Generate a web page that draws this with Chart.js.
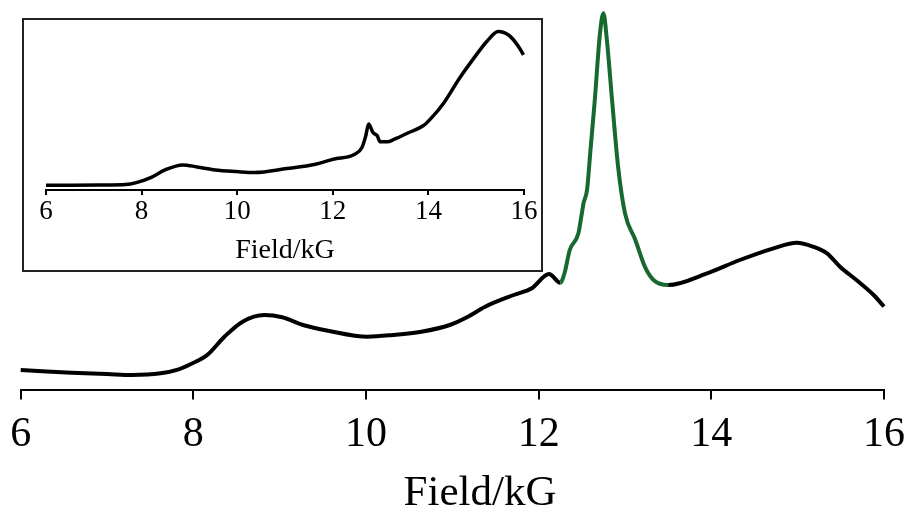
<!DOCTYPE html>
<html>
<head>
<meta charset="utf-8">
<script src="https://cdn.jsdelivr.net/npm/chart.js@4/dist/chart.umd.min.js"></script>
<style>
  html, body { margin: 0; padding: 0; background: #fff; }
  #wrap { position: relative; width: 909px; height: 514px; overflow: hidden; background: #fff; }
  #mainBox { position: absolute; left: 0; top: 0; width: 909px; height: 514px; }
  #insetBox { position: absolute; left: 22px; top: 18px; width: 517px; height: 250px; border: 2px solid #222; background: #fff; }
  #mainTitle { position: absolute; left: 330px; width: 300px; top: 469px; text-align: center;
    font-family: "Liberation Serif", "DejaVu Serif", serif; font-size: 43px; line-height: 43px; color: #000; }
</style>
</head>
<body>
<div id="wrap">
  <div id="mainBox"><canvas id="mainChart" width="909" height="514"></canvas></div>
  <div id="insetBox"><canvas id="insetChart" width="517" height="250"></canvas></div>
  <div id="mainTitle">Field/kG</div>
</div>
<script>
// ---- Data (field in kG, signal in arbitrary units) ----
const tickValues = [6, 8, 10, 12, 14, 16];
const axisTitle = "Field/kG";

const mainField = [6.00, 6.30, 6.59, 7.00, 7.29, 7.62, 7.83, 7.99, 8.16, 8.36, 8.57, 8.82, 9.03, 9.27, 9.56,
  10.02, 10.31, 10.64, 10.97, 11.18, 11.38, 11.71, 11.92, 12.12, 12.25, 12.30, 12.36, 12.46, 12.50, 12.52,
  12.56, 12.60, 12.65, 12.71, 12.75, 12.79, 12.85, 12.92, 13.00, 13.12, 13.23, 13.33, 13.50,
  13.95, 14.33, 14.72, 14.99, 15.18, 15.34, 15.49, 15.68, 15.88, 16.00];
const mainSignal = [19.5, 18.0, 16.8, 15.5, 14.5, 16.2, 20.2, 26.2, 34.5, 52.8, 67.8, 74.5, 72.2, 64.5, 58.8,
  52.8, 54.5, 57.8, 64.5, 72.8, 82.8, 94.5, 101.2, 115.5, 106.8, 116.5, 139.5, 156.2, 176.2, 186.5,
  199.5, 239.5, 289.5, 356.2, 376.2, 349.5, 289.5, 222.8, 176.2, 149.5, 122.8, 109.5, 104.5,
  116.2, 129.5, 141.2, 146.8, 142.8, 136.2, 122.8, 109.5, 94.5, 83.0];

// highlighted (green) field window in the main trace
const greenFrom = 12.25;
const greenTo = 13.50;

const insetField = [6.00, 6.54, 7.29, 7.66, 7.89, 8.19, 8.49, 8.86, 9.16, 9.54, 9.99, 10.36, 11.04, 11.64,
  12.01, 12.46, 12.61, 12.69, 12.75, 12.84, 12.93, 12.99, 13.14, 13.29, 13.59, 13.89, 14.04, 14.33,
  14.64, 14.94, 15.24, 15.46, 15.69, 15.87, 15.99];
const insetSignal = [4.7, 4.7, 5.0, 5.4, 7.4, 12.4, 20.1, 25.1, 23.1, 20.1, 18.4, 17.4, 21.4, 25.8,
  30.8, 35.8, 42.5, 54.2, 65.9, 57.5, 54.2, 48.2, 48.2, 50.8, 57.5, 64.2, 70.9, 87.6,
  111.0, 131.1, 149.5, 158.5, 154.5, 144.5, 135.1];

const toPoints = (xs, ys) => xs.map((x, i) => ({ x: x, y: ys[i] }));

const SERIF = '"Liberation Serif", "DejaVu Serif", serif';
const BLACK = '#000000';
const GREEN = '#17692f';

function xScale(fontSize, tickLen, pad, lineW, axisHeight) {
  return {
    type: 'linear',
    min: 6, max: 16,
    afterBuildTicks: (s) => { s.ticks = tickValues.map(v => ({ value: v })); },
    afterFit: (s) => { s.height = axisHeight; s.paddingLeft = 0; s.paddingRight = 0; },
    ticks: { color: BLACK, padding: pad, font: { family: SERIF, size: fontSize }, maxRotation: 0, autoSkip: false },
    grid: { display: true, drawOnChartArea: false, drawTicks: true, tickLength: tickLen, color: BLACK, lineWidth: lineW },
    border: { display: true, color: BLACK, width: lineW },
    title: { display: false }
  };
}

new Chart(document.getElementById('mainChart'), {
  type: 'line',
  data: {
    datasets: [{
      data: toPoints(mainField, mainSignal),
      borderColor: BLACK,
      borderWidth: 4,
      pointRadius: 0,
      cubicInterpolationMode: 'monotone',
      clip: false,
      segment: {
        borderColor: ctx => (ctx.p0.parsed.x >= greenFrom - 1e-6 && ctx.p1.parsed.x <= greenTo + 1e-6) ? GREEN : BLACK
      }
    }]
  },
  options: {
    responsive: false,
    animation: false,
    events: [],
    layout: { padding: { left: 20.7, right: 25, top: 0, bottom: 0 } },
    plugins: { legend: { display: false }, tooltip: { enabled: false }, title: { display: false } },
    scales: {
      x: xScale(42, 10, 10.5, 2, 124.5),
      y: { display: false, min: 0, max: 389.5 }
    }
  }
});

new Chart(document.getElementById('insetChart'), {
  type: 'line',
  data: {
    datasets: [{
      data: toPoints(insetField, insetSignal),
      borderColor: BLACK,
      borderWidth: 3.5,
      pointRadius: 0,
      cubicInterpolationMode: 'monotone',
      clip: false
    }]
  },
  options: {
    responsive: false,
    animation: false,
    events: [],
    layout: { padding: { left: 22, right: 17, top: 0, bottom: 0 } },
    plugins: { legend: { display: false }, tooltip: { enabled: false }, title: { display: false } },
    scales: {
      x: Object.assign(xScale(27, 5, 1, 2, 80), {
        title: { display: true, text: axisTitle, color: BLACK, font: { family: SERIF, size: 28 }, padding: { top: 0, bottom: 3 } }
      }),
      y: { display: false, min: 0, max: 170 }
    }
  }
});
</script>
</body>
</html>
